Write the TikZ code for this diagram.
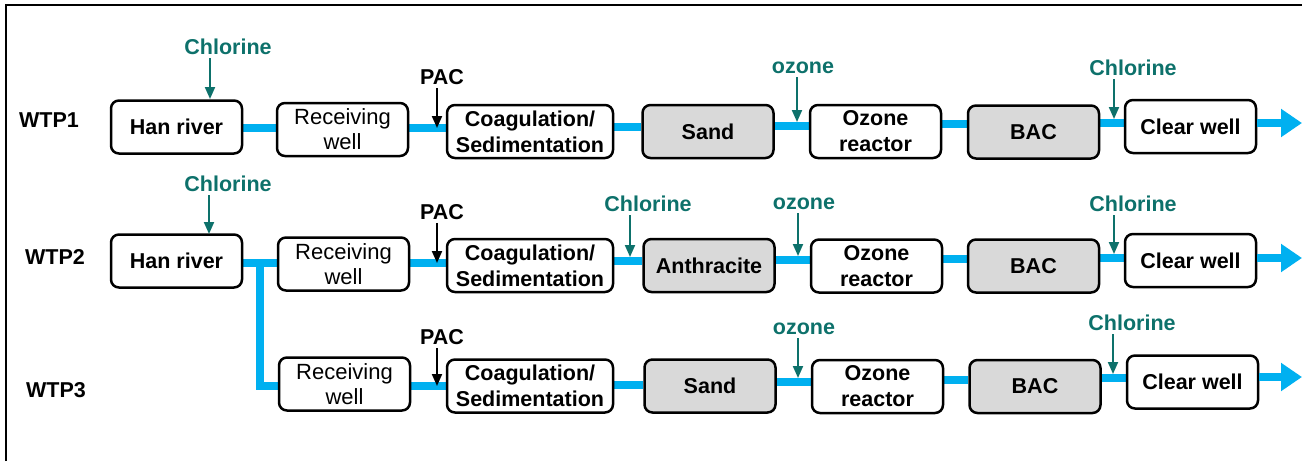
\documentclass[tikz,border=0pt]{standalone}
\usepackage{fontspec}
\setmainfont{Liberation Sans}
\usetikzlibrary{arrows.meta,backgrounds}
\definecolor{pipeblue}{HTML}{00B0F0}
\definecolor{chemteal}{HTML}{0D716B}
\definecolor{boxgray}{HTML}{D9D9D9}
\newcommand\pipeseg[3]{\path (0,#3) coordinate (pipey); \draw[pipe] (#1.east |- pipey) -- (#2.west |- pipey);}
\newcommand\dosearrow[4]{\path (#3,#4) coordinate (dosetip); \draw[#1] (dosetip |- #2.south) -- (dosetip);}
\begin{document}
\begin{tikzpicture}[x=1pt,y=-1pt,
  stage/.style={draw=black, line width=2.5pt, rounded corners=8pt, minimum width=131pt, minimum height=53pt, inner sep=0pt, align=center, font=\fontsize{21.5}{26}\selectfont\bfseries, fill=white},
  light/.style={font=\fontsize{22}{25}\selectfont},
  media/.style={stage, fill=boxgray},
  wide/.style={minimum width=166pt},
  lab/.style={font=\fontsize{21.5}{26}\selectfont\bfseries, inner sep=1pt},
  chem/.style={lab, text=chemteal},
  pipe/.style={draw=pipeblue, line width=8pt},
  dose/.style={draw=chemteal, line width=2pt, shorten <=2pt, -{Triangle[width=10pt,length=12pt]}},
  pac/.style={dose, draw=black},
  outflow/.style={pipe, -{Triangle[width=27pt,length=21pt]}}]
\useasboundingbox (0,0) rectangle (1302,461);
\draw[line width=2pt] (5.5,461) -- (5.5,5) -- (1302,5);

% row labels
\node[lab] (w1) at (49,120) {WTP1};
\node[lab] (w2) at (55,257) {WTP2};
\node[lab] (w3) at (56,390) {WTP3};

% row 1
\node[stage] (han1) at (176.5,127) {Han river};
\node[stage, light] (recv1) at (342.5,129.5) {Receiving\\well};
\node[stage, wide] (coag1) at (530,131.5) {Coagulation/\\Sedimentation};
\node[media] (sand1) at (708,131.5) {Sand};
\node[stage] (ozr1) at (875.5,131.5) {Ozone\\reactor};
\node[media] (bac1) at (1033.5,132) {BAC};
\node[stage] (clear1) at (1190.5,126.5) {Clear well};

% row 2
\node[stage] (han2) at (176.5,261) {Han river};
\node[stage, light] (recv2) at (343.5,264) {Receiving\\well};
\node[stage, wide] (coag2) at (530,265.5) {Coagulation/\\Sedimentation};
\node[media] (anth2) at (709,265.5) {Anthracite};
\node[stage] (ozr2) at (876.5,266) {Ozone\\reactor};
\node[media] (bac2) at (1033.5,266) {BAC};
\node[stage] (clear2) at (1190.5,260.5) {Clear well};

% row 3
\node[stage, light] (recv3) at (344.5,384) {Receiving\\well};
\node[stage, wide] (coag3) at (530,386) {Coagulation/\\Sedimentation};
\node[media] (sand3) at (710,386) {Sand};
\node[stage] (ozr3) at (877.5,386.5) {Ozone\\reactor};
\node[media] (bac3) at (1035,386.5) {BAC};
\node[stage] (clear3) at (1192.5,382) {Clear well};

\begin{scope}[on background layer]
\pipeseg{han1}{recv1}{128}
\pipeseg{recv1}{coag1}{128}
\pipeseg{coag1}{sand1}{127}
\pipeseg{sand1}{ozr1}{126}
\pipeseg{ozr1}{bac1}{124}
\pipeseg{bac1}{clear1}{123}
\pipeseg{han2}{recv2}{263}
\pipeseg{recv2}{coag2}{263}
\pipeseg{coag2}{anth2}{261}
\pipeseg{anth2}{ozr2}{260}
\pipeseg{ozr2}{bac2}{259}
\pipeseg{bac2}{clear2}{258}
\pipeseg{recv3}{coag3}{386}
\pipeseg{coag3}{sand3}{385}
\pipeseg{sand3}{ozr3}{382}
\pipeseg{ozr3}{bac3}{380}
\pipeseg{bac3}{clear3}{378}
\coordinate (split) at (260,263);
\coordinate (bend) at (260,386);
\draw[pipe, line join=miter] (split) -- (bend) -- (recv3.west |- bend);
\end{scope}

% outflow arrows
\coordinate (end1) at (1302,123);
\coordinate (end2) at (1302,258);
\coordinate (end3) at (1302,377);
\draw[outflow] (clear1.east |- end1) -- (end1);
\draw[outflow] (clear2.east |- end2) -- (end2);
\draw[outflow] (clear3.east |- end3) -- (end3);

% dosing labels and arrows
\node[chem] (cl1a) at (228,47) {Chlorine};
\node[lab] (pac1) at (442,77) {PAC};
\node[chem] (oz1) at (803,68) {ozone};
\node[chem] (cl1b) at (1133,68) {Chlorine};
\dosearrow{dose}{cl1a}{210}{99}
\dosearrow{pac}{pac1}{437}{128}
\dosearrow{dose}{oz1}{797}{122}
\dosearrow{dose}{cl1b}{1114}{119}

\node[chem] (cl2a) at (228,184) {Chlorine};
\node[lab] (pac2) at (442,212) {PAC};
\node[chem] (cl2m) at (648,204) {Chlorine};
\node[chem] (oz2) at (804,204) {ozone};
\node[chem] (cl2b) at (1133,204) {Chlorine};
\dosearrow{dose}{cl2a}{209}{234}
\dosearrow{pac}{pac2}{437}{263}
\dosearrow{dose}{cl2m}{630}{257}
\dosearrow{dose}{oz2}{798}{256}
\dosearrow{dose}{cl2b}{1114}{254}

\node[lab] (pac3) at (442,337) {PAC};
\node[chem] (oz3) at (804,329) {ozone};
\node[chem] (cl3) at (1132,323) {Chlorine};
\dosearrow{pac}{pac3}{437}{386}
\dosearrow{dose}{oz3}{798}{378}
\dosearrow{dose}{cl3}{1113}{374}
\end{tikzpicture}
\end{document}
